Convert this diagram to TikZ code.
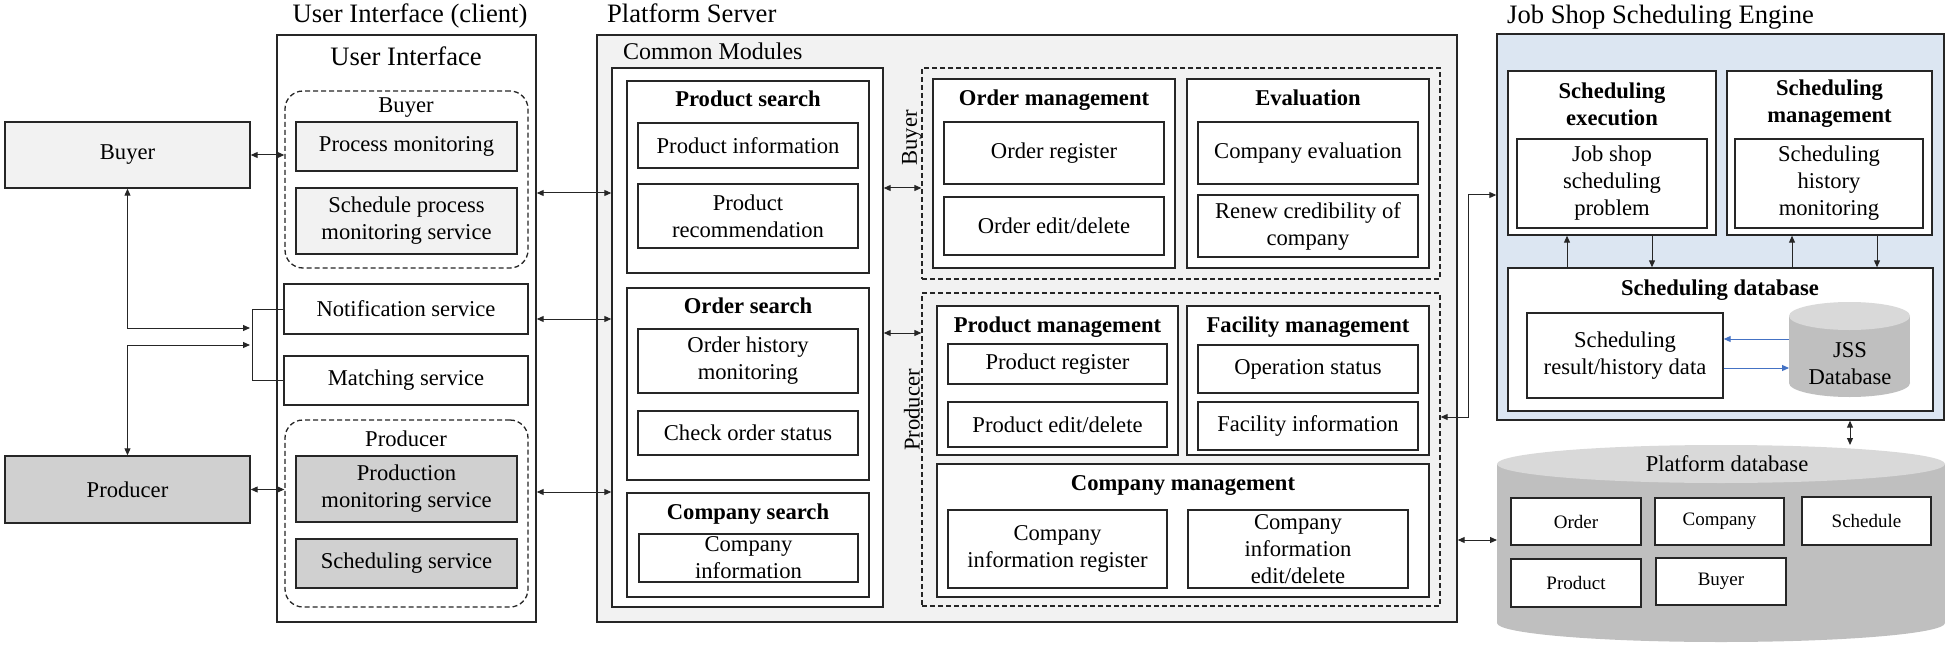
\documentclass[tikz,border=0pt]{standalone}
\usepackage{fontspec}
\setmainfont{Liberation Serif}
\usetikzlibrary{arrows.meta}
\definecolor{lc}{HTML}{262626}
\definecolor{lg}{HTML}{F2F2F2}
\definecolor{dg}{HTML}{D0D0D0}
\definecolor{lb}{HTML}{DCE6F2}
\definecolor{cylb}{HTML}{BFBFBF}
\definecolor{cylt}{HTML}{D9D9D9}
\definecolor{blu}{HTML}{4472C4}
\newcommand\ftitle{\fontsize{26.6}{31}\selectfont}
\newcommand\fnorm{\fontsize{22.6}{27}\selectfont}
\newcommand\fcm{\fontsize{24}{28}\selectfont}
\newcommand\fsm{\fontsize{19}{23}\selectfont}
\newcommand\bx[7]{\node[#6, minimum width={(#4-#2)*1pt}, minimum height={(#5-#3)*1pt}] (#1) at ({(#2+#4)/2},{(#3+#5)/2}) {#7};}
\begin{document}
\begin{tikzpicture}[x=1pt,y=-1pt,
  box/.style={draw=lc, line width=1.4pt, inner sep=0pt, align=center, font=\fnorm},
  dgroup/.style={draw=lc, line width=1.3pt, dash pattern=on 5pt off 3pt, rounded corners=18pt, inner sep=0pt},
  dregion/.style={draw=lc, line width=1.3pt, dash pattern=on 5pt off 3pt, inner sep=0pt},
  ttl/.style={font=\ftitle, inner sep=0pt},
  txt/.style={font=\fnorm, inner sep=0pt, align=center},
  hd/.style={font=\fnorm\bfseries, inner sep=0pt, align=center},
  tip/.style={Triangle[length=7pt,width=6pt]},
  ar/.style={-{Triangle[length=7pt,width=6pt]}, draw=lc, line width=1pt},
  dar/.style={{Triangle[length=7pt,width=6pt]}-{Triangle[length=7pt,width=6pt]}, draw=lc, line width=1pt},
  conn/.style={draw=lc, line width=1pt},
  blar/.style={-{Triangle[length=7pt,width=6pt]}, draw=blu, line width=1pt}]
\useasboundingbox (0,0) rectangle (1950,647);

% ---------------- User Interface ----------------
\node[ttl, anchor=base] (tui) at (410,23) {User Interface (client)};
\bx{ui}{277}{35}{536}{622}{box,fill=white}{}
\node[ttl, anchor=base] (tui2) at (406,66) {User Interface};
\bx{uib}{285}{91}{528}{268}{dgroup}{}
\node[txt, anchor=base] (luib) at (406,113) {Buyer};
\bx{pm}{296}{122}{517}{171}{box,fill=lg}{Process monitoring}
\bx{spm}{296}{188}{517}{254}{box,fill=lg}{Schedule process\\monitoring service}
\bx{ns}{284}{284}{528}{334}{box,fill=white}{Notification service}
\bx{ms}{284}{356}{528}{405}{box,fill=white}{Matching service}
\bx{uip}{285}{420}{528}{607}{dgroup}{}
\node[txt, anchor=base] (luip) at (406,446) {Producer};
\bx{prm}{296}{456}{517}{522}{box,fill=dg}{Production\\monitoring service}
\bx{ss}{296}{539}{517}{588}{box,fill=dg}{Scheduling service}

\bx{buyer}{5}{122}{250}{188}{box,fill=lg}{Buyer}
\bx{producer}{5}{456}{250}{523}{box,fill=dg}{Producer}

\draw[dar] (buyer.east) -- (uib.west |- buyer.east);
\draw[dar] (producer.east) -- (uip.west |- producer.east);
\coordinate (a1) at (250,328);
\coordinate (a2) at (250,345);
\draw[dar] (buyer.south) |- (a1);
\draw[dar] (producer.north) |- (a2);
\coordinate (br) at (252,0);
\draw[conn] (ns.west) -- (ns.west -| br) -- (ms.west -| br) -- (ms.west);

% ---------------- Platform Server ----------------
\node[ttl, anchor=base west] (tps) at (607,23) {Platform Server};
\bx{ps}{597}{35}{1457}{622}{box,fill=lg}{}
\node[font=\fcm, inner sep=0pt, anchor=base west] (tcm) at (623,60) {Common Modules};
\bx{cm}{612}{68}{883}{607}{box,fill=white}{}

\bx{psr}{627}{81}{869}{273}{box}{}
\node[hd, anchor=base] (tpsr) at (748,107) {Product search};
\bx{pi}{638}{123}{858}{168}{box}{Product information}
\bx{pr}{638}{184}{858}{248}{box}{Product\\recommendation}

\bx{osr}{627}{288}{869}{480}{box}{}
\node[hd, anchor=base] (tosr) at (748,313) {Order search};
\bx{ohm}{638}{329}{858}{393}{box}{Order history\\monitoring}
\bx{cos}{638}{411}{858}{455}{box}{Check order status}

\bx{csr}{627}{493}{869}{597}{box}{}
\node[hd, anchor=base] (tcsr) at (748,519) {Company search};
\bx{ci}{639}{534}{858}{582}{box}{Company\\information}

% buyer region
\bx{pb}{922}{68}{1440}{279}{dregion}{}
\node[txt, rotate=90] (lpb) at (912,138) {Buyer};
\bx{om}{933}{79}{1175}{268}{box,fill=white}{}
\node[hd, anchor=base] (tom) at (1054,106) {Order management};
\bx{or}{944}{122}{1164}{184}{box}{Order register}
\bx{oed}{944}{197}{1164}{255}{box}{Order edit/delete}
\bx{ev}{1187}{79}{1429}{268}{box,fill=white}{}
\node[hd, anchor=base] (tev) at (1308,106) {Evaluation};
\bx{ce}{1198}{122}{1418}{184}{box}{Company evaluation}
\bx{rc}{1198}{195}{1418}{257}{box}{Renew credibility of\\company}

% producer region
\bx{pp}{922}{293}{1440}{606}{dregion}{}
\node[txt, rotate=90] (lpp) at (912,410) {Producer};
\bx{pmg}{937}{306}{1178}{455}{box,fill=white}{}
\node[hd, anchor=base] (tpmg) at (1057.5,332) {Product management};
\bx{preg}{948}{344}{1167}{384}{box}{Product register}
\bx{ped}{948}{402}{1167}{447}{box}{Product edit/delete}
\bx{fm}{1187}{306}{1429}{455}{box,fill=white}{}
\node[hd, anchor=base] (tfm) at (1308,332) {Facility management};
\bx{ops}{1198}{345}{1418}{393}{box}{Operation status}
\bx{fi}{1198}{402}{1418}{450}{box}{Facility information}
\bx{cmg}{937}{464}{1429}{597}{box,fill=white}{}
\node[hd, anchor=base] (tcmg) at (1183,490) {Company management};
\bx{cir}{948}{510}{1167}{588}{box}{Company\\information register}
\bx{cied}{1188}{510}{1408}{588}{box}{Company\\information\\edit/delete}

% UI <-> common modules
\coordinate (y1) at (0,193);
\coordinate (y2) at (0,319);
\coordinate (y3) at (0,492);
\draw[dar] (ui.east |- y1) -- (cm.west |- y1);
\draw[dar] (ui.east |- y2) -- (cm.west |- y2);
\draw[dar] (ui.east |- y3) -- (cm.west |- y3);
% common modules <-> regions
\coordinate (y4) at (0,188);
\coordinate (y5) at (0,333);
\draw[dar] (cm.east |- y4) -- (pb.west |- y4);
\draw[dar] (cm.east |- y5) -- (pp.west |- y5);

% ---------------- JSS Engine ----------------
\node[ttl, anchor=base west] (tjss) at (1507,24) {Job Shop Scheduling Engine};
\bx{jss}{1497}{34}{1944}{420}{box,fill=lb}{}
\bx{se}{1508}{71}{1716}{235}{box,fill=white}{}
\node[hd] (tse) at (1612,104) {Scheduling\\execution};
\bx{jsp}{1517}{139}{1707}{228}{box}{Job shop\\scheduling\\problem}
\bx{smg}{1727}{71}{1932}{235}{box,fill=white}{}
\node[hd] (tsmg) at (1829.5,104) {Scheduling\\management};
\bx{shm}{1735}{139}{1923}{228}{box}{Scheduling\\history\\monitoring}
\bx{sdb}{1508}{268}{1933}{411}{box,fill=white}{}
\node[hd, anchor=base] (tsdb) at (1720,295) {Scheduling database};
\bx{res}{1527}{313}{1723}{398}{box}{Scheduling\\result/history data}
% JSS database cylinder
\fill[cylb] (1789,316) rectangle (1910,383);
\fill[cylb] (1849.5,383) ellipse [x radius=60.5pt, y radius=14pt];
\fill[cylt] (1849.5,316) ellipse [x radius=60.5pt, y radius=14pt];
\node[txt] (jdb) at (1850,364) {JSS\\Database};

\coordinate (c1) at (1567,0);
\coordinate (c2) at (1652,0);
\coordinate (c3) at (1792,0);
\coordinate (c4) at (1877,0);
\draw[ar] (c1 |- sdb.north) -- (c1 |- se.south);
\draw[ar] (c2 |- se.south) -- (c2 |- sdb.north);
\draw[ar] (c3 |- sdb.north) -- (c3 |- smg.south);
\draw[ar] (c4 |- smg.south) -- (c4 |- sdb.north);
\coordinate (b1) at (1789,339);
\coordinate (b2) at (1789,368);
\draw[blar] (b1) -- (b1 -| res.east);
\draw[blar] (b2 -| res.east) -- (b2);

% JSS <-> producer region
\coordinate (k1) at (1468,195);
\coordinate (k2) at (1468,417);
\draw[dar] (k2 -| pp.east) -- (k2) -- (k1) -- (k1 -| jss.west);

% ---------------- Platform database ----------------
\fill[cylb] (1497,464) rectangle (1945,623);
\fill[cylb] (1721,623) ellipse [x radius=224pt, y radius=19pt];
\fill[cylt] (1721,464) ellipse [x radius=224pt, y radius=19pt];
\node[txt, anchor=base] (tpdb) at (1727,471) {Platform database};
\bx{dbo}{1511}{498}{1641}{545}{box,fill=white,line width=1.2pt,font=\fsm}{Order}
\bx{dbc}{1655}{498}{1784}{545}{box,fill=white,line width=1.2pt,font=\fsm}{Company}
\bx{dbs}{1802}{497}{1931}{545}{box,fill=white,line width=1.2pt,font=\fsm}{Schedule}
\bx{dbp}{1511}{559}{1641}{607}{box,fill=white,line width=1.2pt,font=\fsm}{Product}
\bx{dbb}{1656}{558}{1786}{605}{box,fill=white,line width=1.2pt,font=\fsm}{Buyer}

\coordinate (pdbl) at (1497,540);
\coordinate (pdbt) at (1850,445);
\draw[dar] (ps.east |- pdbl) -- (pdbl);
\draw[dar] (jss.south -| pdbt) -- (pdbt);
\end{tikzpicture}
\end{document}
